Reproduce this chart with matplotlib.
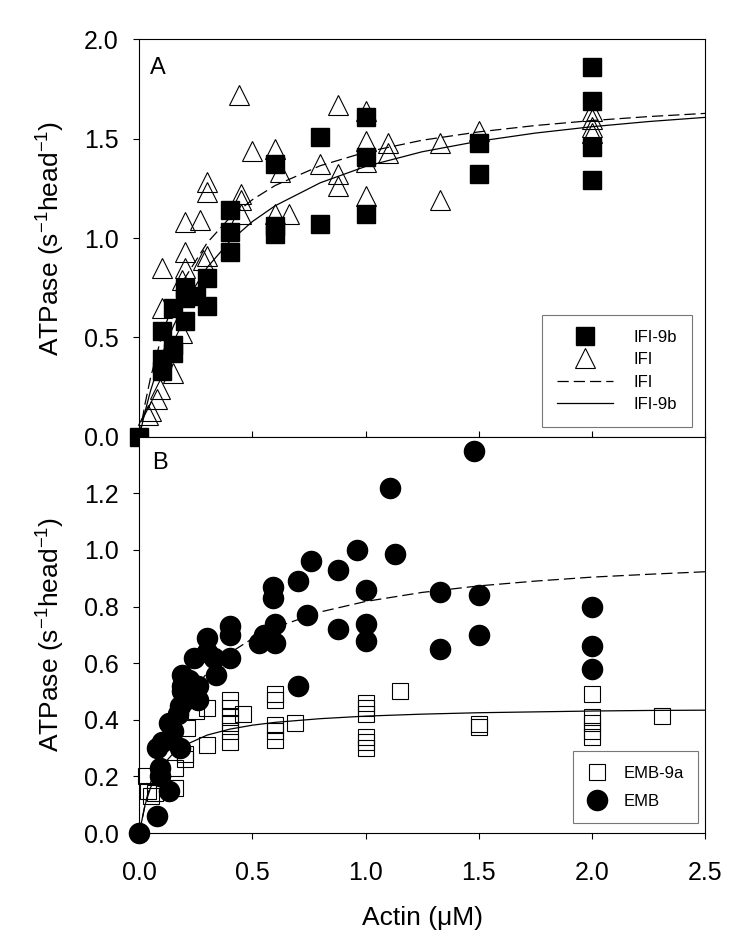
import matplotlib
matplotlib.use("Agg")
import matplotlib.pyplot as plt
from matplotlib.ticker import FormatStrFormatter

plt.rcParams['font.family'] = ['Liberation Sans', 'DejaVu Sans']
plt.rcParams['mathtext.fontset'] = 'custom'
plt.rcParams['mathtext.rm'] = 'Liberation Sans'
plt.rcParams['mathtext.it'] = 'Liberation Sans:italic'
plt.rcParams['mathtext.default'] = 'regular'

# ---- panel A: IFI-9b (filled squares) ----
ifi9b_x = [0, 0.1, 0.1, 0.1, 0.15, 0.15, 0.15, 0.2, 0.2, 0.2, 0.25, 0.3, 0.3,
           0.4, 0.4, 0.4, 0.6, 0.6, 0.6, 0.8, 0.8, 1.0, 1.0, 1.0,
           1.5, 1.5, 2.0, 2.0, 2.0, 2.0]
ifi9b_y = [0, 0.53, 0.39, 0.33, 0.46, 0.42, 0.65, 0.58, 0.75, 0.70, 0.71, 0.80, 0.66,
           1.14, 1.03, 0.93, 1.37, 1.06, 1.02, 1.51, 1.07, 1.61, 1.41, 1.12,
           1.48, 1.32, 1.86, 1.69, 1.46, 1.29]

# ---- panel A: IFI (open triangles) ----
ifi_x = [0.04, 0.05, 0.08, 0.09, 0.1, 0.1, 0.15, 0.19, 0.2, 0.2, 0.2, 0.19, 0.27,
         0.3, 0.3, 0.28, 0.3, 0.44, 0.45, 0.45, 0.45, 0.5, 0.6, 0.62, 0.6, 0.66,
         0.8, 0.88, 0.88, 0.88, 1.0, 1.0, 1.0, 1.0, 1.1, 1.1, 1.33, 1.33, 1.5,
         2.0, 2.0, 2.0, 2.0]
ifi_y = [0.11, 0.13, 0.19, 0.24, 0.85, 0.65, 0.32, 0.52, 1.08, 0.93, 0.85, 0.79, 1.09,
         1.28, 1.23, 0.89, 0.91, 1.72, 1.22, 1.19, 1.12, 1.44, 1.45, 1.33, 1.12, 1.12,
         1.37, 1.67, 1.32, 1.26, 1.64, 1.49, 1.38, 1.21, 1.48, 1.43, 1.48, 1.19, 1.54,
         1.64, 1.60, 1.56, 1.53]

# ---- fitted curves ----
fit_x = [0, 0.025, 0.05, 0.1, 0.15, 0.2, 0.3, 0.4, 0.5, 0.6, 0.8, 1.0,
         1.25, 1.5, 1.75, 2.0, 2.25, 2.5]
ifi_fit = [0, 0.163, 0.298, 0.511, 0.671, 0.796, 0.976, 1.102, 1.193, 1.264, 1.364, 1.432,
           1.492, 1.534, 1.566, 1.591, 1.611, 1.627]
ifi9b_fit = [0, 0.124, 0.232, 0.412, 0.555, 0.672, 0.852, 0.983, 1.083, 1.162, 1.278, 1.360,
             1.434, 1.487, 1.528, 1.560, 1.586, 1.607]
emb_fit = [0, 0.097, 0.177, 0.301, 0.394, 0.464, 0.566, 0.636, 0.687, 0.726, 0.781, 0.818,
           0.850, 0.873, 0.890, 0.904, 0.914, 0.923]
emb9a_fit = [0, 0.098, 0.161, 0.237, 0.281, 0.310, 0.346, 0.367, 0.381, 0.391, 0.404, 0.413,
             0.420, 0.425, 0.428, 0.431, 0.433, 0.434]

# ---- panel B: EMB (filled circles) ----
emb_x = [0, 0.08, 0.13, 0.09, 0.09, 0.08, 0.1, 0.13, 0.18, 0.15, 0.17, 0.18, 0.19,
         0.19, 0.19, 0.2, 0.24, 0.26, 0.26, 0.22, 0.3, 0.3, 0.33, 0.34, 0.4, 0.4,
         0.4, 0.53, 0.55, 0.59, 0.59, 0.6, 0.6, 0.7, 0.7, 0.74, 0.76, 0.88, 0.88,
         0.96, 1.0, 1.0, 1.0, 1.11, 1.13, 1.33, 1.33, 1.48, 1.5, 1.5, 2.0, 2.0, 2.0]
emb_y = [0, 0.06, 0.15, 0.20, 0.23, 0.30, 0.32, 0.39, 0.30, 0.36, 0.42, 0.45, 0.50,
         0.52, 0.56, 0.47, 0.62, 0.52, 0.47, 0.54, 0.69, 0.64, 0.62, 0.56, 0.73, 0.70,
         0.62, 0.67, 0.70, 0.87, 0.83, 0.74, 0.67, 0.89, 0.52, 0.77, 0.96, 0.93, 0.72,
         1.00, 0.86, 0.74, 0.68, 1.22, 0.985, 0.85, 0.65, 1.35, 0.84, 0.70, 0.80, 0.66, 0.58]

# ---- panel B: EMB-9a (open squares) ----
emb9a_x = [0.03, 0.04, 0.05, 0.07, 0.16, 0.16, 0.2, 0.2, 0.21, 0.25, 0.3, 0.3,
           0.4, 0.4, 0.4, 0.4, 0.4, 0.4, 0.46, 0.6, 0.6, 0.6, 0.6, 0.6, 0.69,
           1.0, 1.0, 1.0, 1.0, 1.0, 1.0, 1.15, 1.5, 1.5, 2.0, 2.0, 2.0, 2.0, 2.0, 2.31]
emb9a_y = [0.20, 0.15, 0.13, 0.14, 0.16, 0.23, 0.26, 0.28, 0.37, 0.43, 0.44, 0.31,
           0.47, 0.44, 0.41, 0.39, 0.36, 0.32, 0.42, 0.49, 0.47, 0.38, 0.36, 0.33, 0.39,
           0.46, 0.44, 0.42, 0.34, 0.32, 0.30, 0.50, 0.385, 0.375, 0.49, 0.41, 0.39, 0.36, 0.34, 0.415]

x_ticks = [0.0, 0.5, 1.0, 1.5, 2.0, 2.5]
a_yticks = [0.0, 0.5, 1.0, 1.5, 2.0]
b_yticks = [0.0, 0.2, 0.4, 0.6, 0.8, 1.0, 1.2]

ylab = 'ATPase (s$^{-1}$head$^{-1}$)'

fig = plt.figure(figsize=(7.5, 9.49), dpi=100)
ax1 = fig.add_axes([0.1857, 0.5398, 0.7543, 0.4188])
ax2 = fig.add_axes([0.1857, 0.1222, 0.7543, 0.4176])

# panel A
tri, = ax1.plot(ifi_x, ifi_y, ls='none', marker='^', ms=14.5, mfc='none', mec='black',
                mew=0.8, clip_on=False, zorder=3)
sq, = ax1.plot(ifi9b_x, ifi9b_y, ls='none', marker='s', ms=13, mfc='black', mec='black',
               clip_on=False, zorder=4)
dash, = ax1.plot(fit_x, ifi_fit, color='black', ls='--', dashes=(9, 4), lw=0.9, zorder=5)
solid, = ax1.plot(fit_x, ifi9b_fit, color='black', ls='-', lw=0.9, zorder=5)

leg1 = ax1.legend([sq, tri, dash, solid], ['IFI-9b', 'IFI', 'IFI', 'IFI-9b'],
                  loc='lower right', bbox_to_anchor=(0.977, 0.024), fontsize=12,
                  fancybox=False, edgecolor='#555555', handlelength=3.4,
                  handletextpad=1.2, labelspacing=0.45, borderpad=0.9,
                  borderaxespad=0)
leg1.get_frame().set_linewidth(0.8)

ax1.set_xlim(0, 2.5)
ax1.set_ylim(0, 2.0)
ax1.set_xticks(x_ticks)
ax1.set_yticks(a_yticks)
ax1.yaxis.set_major_formatter(FormatStrFormatter('%.1f'))
ax1.tick_params(axis='x', direction='inout', length=9, labelbottom=False)
ax1.tick_params(axis='y', direction='out', length=4, pad=11, labelsize=18)
ax1.set_ylabel(ylab, fontsize=19)
ax1.yaxis.set_label_coords(-0.128, 0.5)
ax1.text(0.019, 0.955, 'A', transform=ax1.transAxes, fontsize=17, va='top', ha='left')

# panel B
ax2.plot(emb9a_x, emb9a_y, ls='none', marker='s', ms=12, mfc='none', mec='black',
         mew=0.8, clip_on=False, zorder=3, label='EMB-9a')
ax2.plot(emb_x, emb_y, ls='none', marker='o', ms=14.5, mfc='black', mec='black',
         clip_on=False, zorder=4, label='EMB')
ax2.plot(fit_x, emb_fit, color='black', ls='--', dashes=(9, 4), lw=0.9, zorder=5)
ax2.plot(fit_x, emb9a_fit, color='black', ls='-', lw=0.9, zorder=5)

leg2 = ax2.legend(loc='lower right', bbox_to_anchor=(0.988, 0.025), fontsize=12,
                  fancybox=False, edgecolor='#555555', handlelength=1.2,
                  handletextpad=1.0, labelspacing=0.8, borderpad=0.85,
                  borderaxespad=0)
leg2.get_frame().set_linewidth(0.8)

ax2.set_xlim(0, 2.5)
ax2.set_ylim(0, 1.4)
ax2.set_xticks(x_ticks)
ax2.set_yticks(b_yticks)
ax2.xaxis.set_major_formatter(FormatStrFormatter('%.1f'))
ax2.yaxis.set_major_formatter(FormatStrFormatter('%.1f'))
ax2.tick_params(axis='x', direction='out', length=4, pad=16, labelsize=18)
ax2.tick_params(axis='y', direction='out', length=4, pad=11, labelsize=18)
ax2.set_ylabel(ylab, fontsize=19)
ax2.yaxis.set_label_coords(-0.128, 0.5)
ax2.set_xlabel('Actin (\u03bcM)', fontsize=19)
ax2.xaxis.set_label_coords(0.5, -0.185)
ax2.text(0.023, 0.961, 'B', transform=ax2.transAxes, fontsize=17, va='top', ha='left')

for ax in (ax1, ax2):
    for sp in ax.spines.values():
        sp.set_linewidth(0.8)

fig.savefig('out.png', dpi=100)
